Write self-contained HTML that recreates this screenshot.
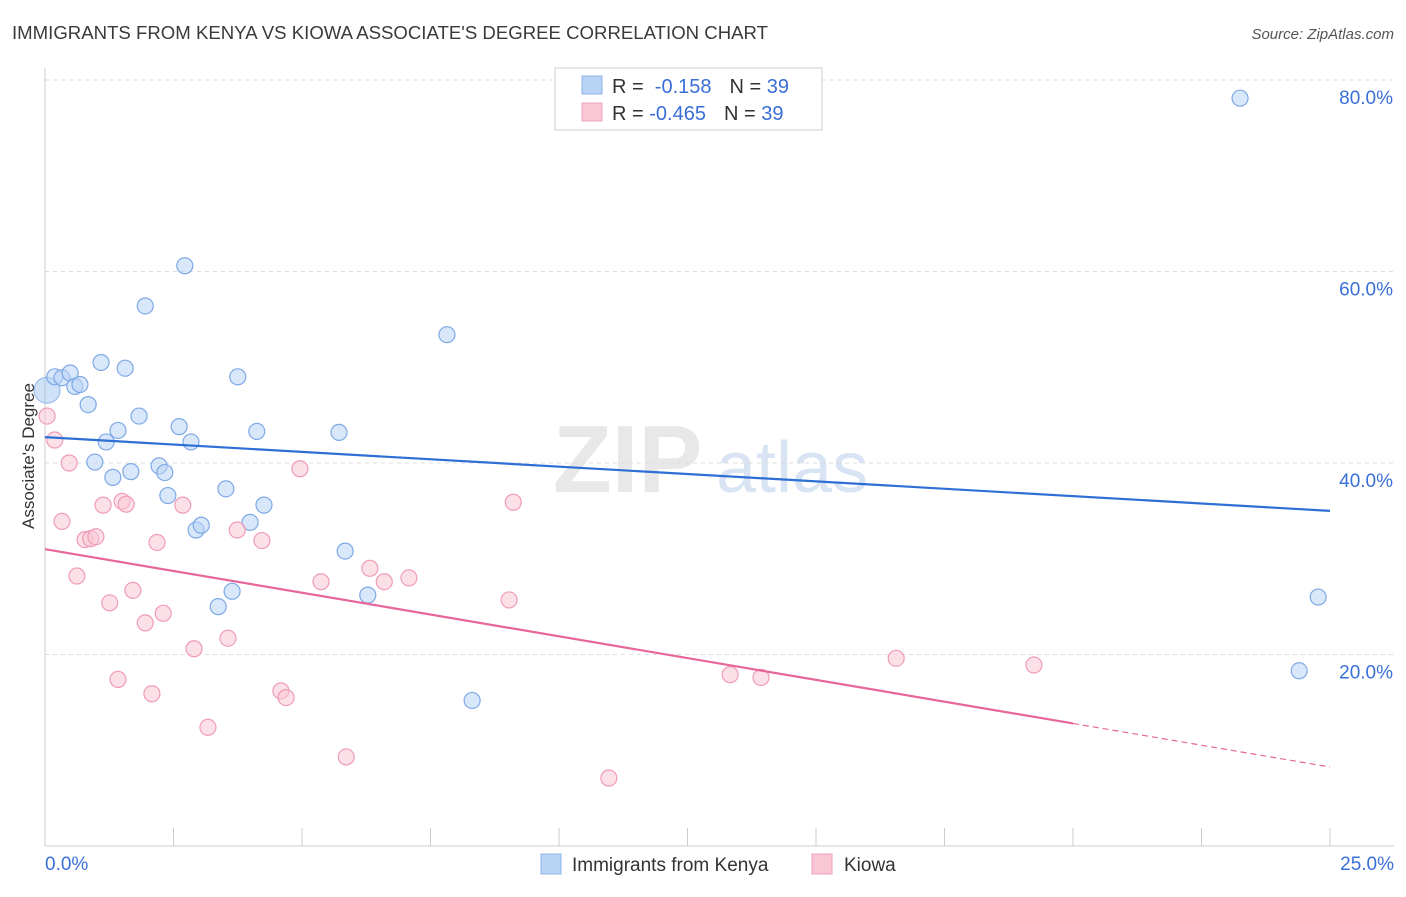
<!DOCTYPE html>
<html><head><meta charset="utf-8"><style>
body{margin:0;background:#fff;font-family:"Liberation Sans",sans-serif;}
svg text{font-family:"Liberation Sans",sans-serif;}
</style></head><body>
<svg id="chart" width="1406" height="892" xmlns="http://www.w3.org/2000/svg">
<text x="12" y="39" font-size="18.6" fill="#3a3a3a" textLength="756">IMMIGRANTS FROM KENYA VS KIOWA ASSOCIATE'S DEGREE CORRELATION CHART</text>
<text x="1394" y="39" font-size="15" fill="#555" text-anchor="end" font-style="italic">Source: ZipAtlas.com</text>
<g>
<text x="553" y="492" font-size="96" fill="#e8e8e8" font-family="Liberation Serif" font-weight="bold">ZIP</text>
<text x="716" y="492" font-size="72" fill="#d8e4f4">atlas</text></g>
<g id="grid"></g><g id="axes"></g><g id="marks"></g>
<text transform="translate(34,456) rotate(-90)" font-size="17" fill="#333" text-anchor="middle">Associate's Degree</text>
<g>
<rect x="555" y="68" width="267" height="62" fill="#fff" stroke="#ccc"/>
<rect x="582" y="76" width="20" height="18" fill="#b9d3f5" stroke="#8fb5ea"/>
<rect x="582" y="103" width="20" height="18" fill="#f9c6d6" stroke="#f0a0b8"/>
<text x="612" y="93" font-size="20" fill="#333">R = <tspan fill="#3a6fd8">&#160;-0.158</tspan><tspan dx="18">N = </tspan><tspan fill="#3a6fd8">39</tspan></text>
<text x="612" y="120" font-size="20" fill="#333">R = <tspan fill="#3a6fd8">-0.465</tspan><tspan dx="18">N = </tspan><tspan fill="#3a6fd8">39</tspan></text>
</g>
<g>
<rect x="541" y="854" width="20" height="20" fill="#b9d3f5" stroke="#8fb5ea"/>
<text x="572" y="871" font-size="19" fill="#333">Immigrants from Kenya</text>
<rect x="812" y="854" width="20" height="20" fill="#f9c6d6" stroke="#f0a0b8"/>
<text x="844" y="871" font-size="19" fill="#333">Kiowa</text>
</g>
</svg>
<script>
const blueX=[0.19,0.33,0.49,0.58,0.68,0.84,0.97,1.09,1.19,1.32,1.42,1.56,1.67,1.83,1.95,2.22,2.33,2.39,2.61,2.72,2.84,2.94,3.04,3.37,3.52,3.64,3.75,3.99,4.12,4.26,5.72,5.84,6.28,7.82,8.31,23.25,24.4,24.77];
const blueY=[49.0,48.9,49.4,48.0,48.2,46.1,40.1,50.5,42.2,38.5,43.4,49.9,39.1,44.9,56.4,39.7,39.0,36.6,43.8,60.6,42.2,33.0,33.5,25.0,37.3,26.6,49.0,33.8,43.3,35.6,43.2,30.8,26.2,53.4,15.2,78.1,18.3,26.0];
const pinkX=[0.04,0.19,0.33,0.47,0.62,0.78,0.89,0.99,1.13,1.26,1.42,1.50,1.58,1.71,1.95,2.08,2.18,2.30,2.68,2.90,3.17,3.56,3.74,4.22,4.59,4.69,4.96,5.37,5.86,6.32,6.60,7.08,9.03,9.11,10.97,13.33,13.93,16.56,19.24];
const pinkY=[44.9,42.4,33.9,40.0,28.2,32.0,32.1,32.3,35.6,25.4,17.4,36.0,35.7,26.7,23.3,15.9,31.7,24.3,35.6,20.6,12.4,21.7,33.0,31.9,16.2,15.5,39.4,27.6,9.3,29.0,27.6,28.0,25.7,35.9,7.1,17.9,17.6,19.6,18.9];
const yTicks=[20,40,60,80];
const yTickLabels=["20.0%","40.0%","60.0%","80.0%"];
const blueTrend=[42.7,35.0];
const pinkTrend=[31.0,8.25];
const ns="http://www.w3.org/2000/svg";
const X=v=>45+v/25*1285, Y=v=>846-v*9.575;
function mk(t,a,p){const e=document.createElementNS(ns,t);for(const k in a)e.setAttribute(k,a[k]);p.appendChild(e);return e;}
const grid=document.getElementById('grid'),axes=document.getElementById('axes'),marks=document.getElementById('marks');
yTicks.forEach((t,i)=>{
 const l=mk('line',{x1:45,x2:1394,y1:Y(t),y2:Y(t),stroke:'#ddd','stroke-dasharray':'4,4'},grid);
 
 
 const tx=mk('text',{x:1393,y:Y(t)+24,'font-size':19,fill:'#3a6fd8','text-anchor':'end'},axes);tx.textContent=yTickLabels[i];
 
 
});
const ya=mk('line',{x1:45,x2:45,y1:68,y2:846,stroke:'#ccc'},axes);


const xa=mk('line',{x1:45,x2:1394,y1:846,y2:846,stroke:'#ccc'},axes);


for(let k=1;k<=10;k++){const t=mk('line',{x1:X(k*2.5),x2:X(k*2.5),y1:828,y2:846,stroke:'#ccc'},axes);
 
 }
[["0.0%",45,'start'],["25.0%",1394,'end']].forEach(a=>{const t=mk('text',{x:a[1],y:870,'font-size':19,fill:'#3a6fd8','text-anchor':a[2]},axes);t.textContent=a[0];
 
 });
const bg=mk('circle',{cx:X(0.04),cy:Y(47.6),r:13,fill:'rgba(160,195,240,0.5)',stroke:'#8fb5ea'},marks);


blueX.forEach((v,i)=>{const c=mk('circle',{cx:X(v),cy:Y(blueY[i]),r:8,fill:'rgba(185,211,245,0.55)',stroke:'#7fa9e6','stroke-width':1.2},marks);
 
 });
pinkX.forEach((v,i)=>{const c=mk('circle',{cx:X(v),cy:Y(pinkY[i]),r:8,fill:'rgba(249,198,214,0.55)',stroke:'#ef9cb6','stroke-width':1.2},marks);
 
 });
const bl=mk('line',{x1:X(0),y1:Y(blueTrend[0]),x2:X(25),y2:Y(blueTrend[1]),stroke:'#2e6fd6','stroke-width':2.2},marks);


const pAt=x=>pinkTrend[0]+(pinkTrend[1]-pinkTrend[0])*x/25;
const pl=mk('line',{x1:X(0),y1:Y(pinkTrend[0]),x2:X(20),y2:Y(pAt(20)),stroke:'#e8679a','stroke-width':2.2},marks);


const pd=mk('line',{x1:X(20),y1:Y(pAt(20)),x2:X(25),y2:Y(pinkTrend[1]),stroke:'#e8679a','stroke-width':1.2,'stroke-dasharray':'6,4'},marks);


</script>
</body></html>
